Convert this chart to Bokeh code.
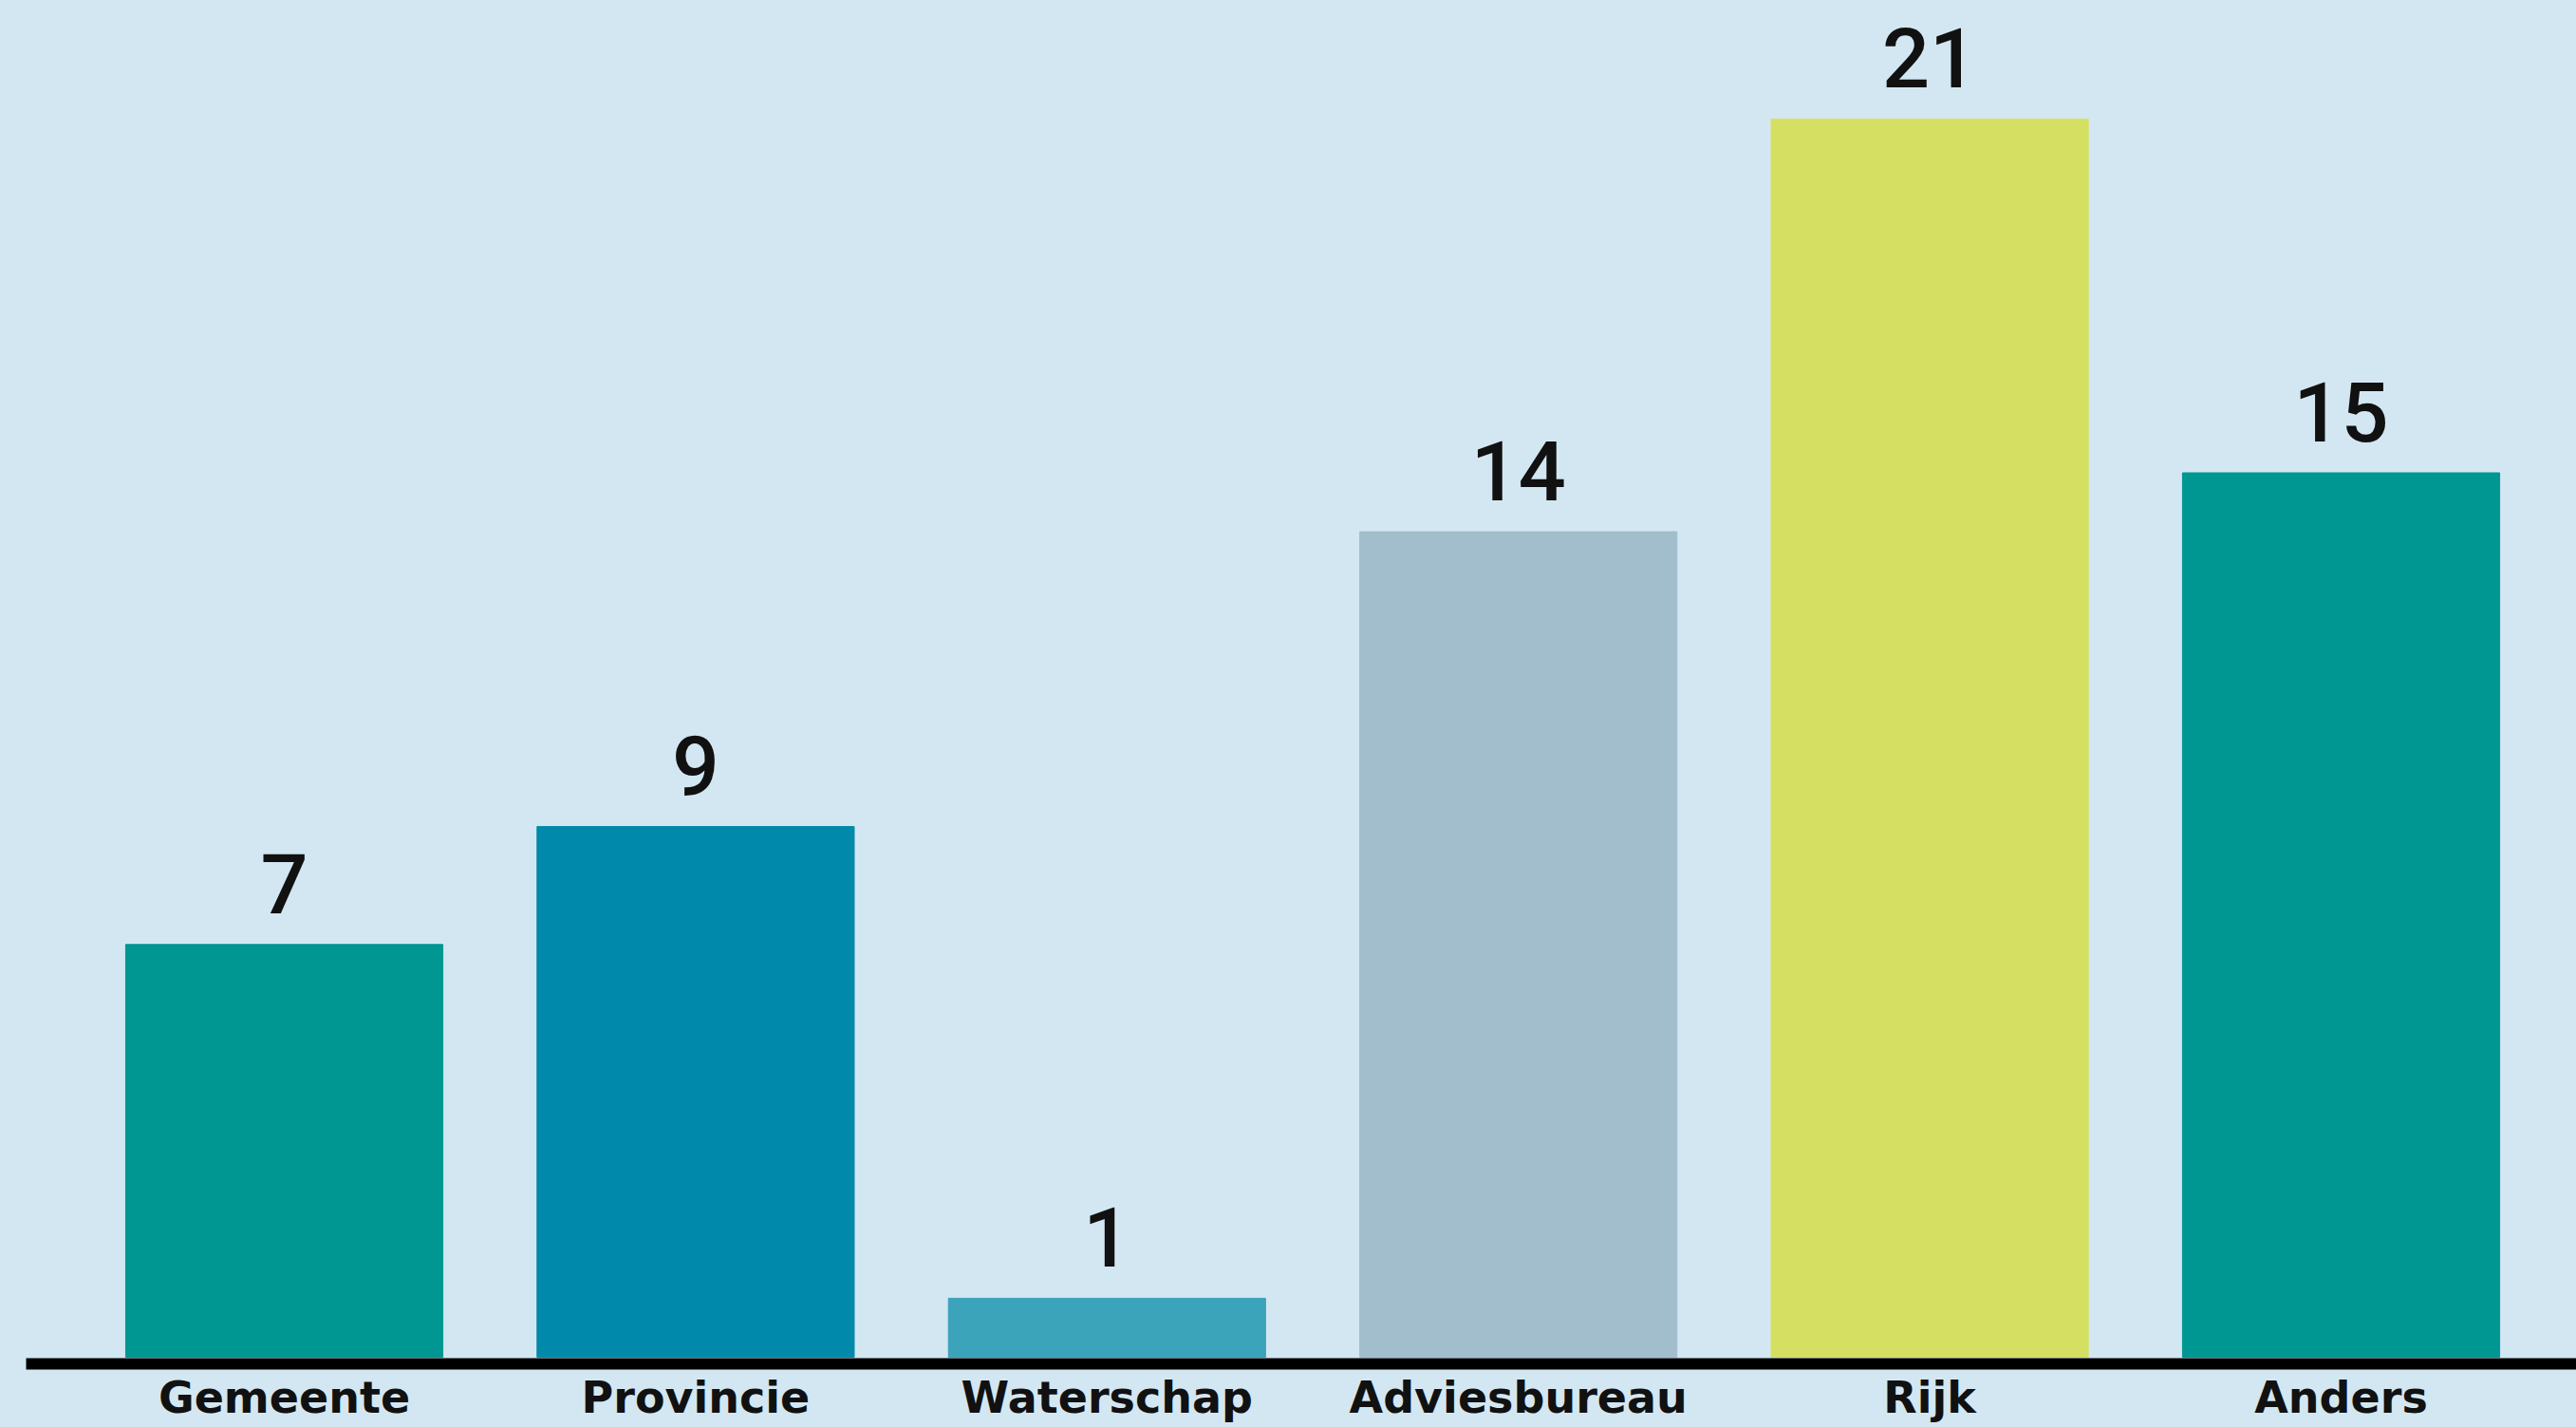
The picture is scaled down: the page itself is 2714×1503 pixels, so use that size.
from bokeh.plotting import figure
from bokeh.models import Range1d, FixedTicker, ColumnDataSource, LabelSet
from bokeh.core.properties import value
from bokeh.embed import file_html
from bokeh.resources import INLINE

categories = ["Gemeente", "Provincie", "Waterschap", "Adviesbureau", "Rijk", "Anders"]
counts = [7, 9, 1, 14, 21, 15]
colors = ["#009691", "#0089AB", "#3BA3BA", "#A2BECC", "#D5E062", "#009691"]

BG = "#D3E7F2"
idx = list(range(len(categories)))

src = ColumnDataSource(dict(x=idx, top=counts, color=colors,
                            label=[str(c) for c in counts]))

p = figure(frame_width=2687, frame_height=1436,
           x_range=Range1d(-0.6276, 5.5722), y_range=Range1d(-0.1127, 23.011),
           output_backend="svg", toolbar_location=None, y_axis_location=None,
           min_border_left=27, min_border_right=0, min_border_top=0,
           min_border_bottom=10)

try:
    from bokeh.models import GlobalInlineStyleSheet
    p.stylesheets = [GlobalInlineStyleSheet(css="html,body{margin:0;padding:0;overflow:hidden;background:%s;}" % BG)]
except Exception:
    pass

p.background_fill_color = BG
p.border_fill_color = BG
p.outline_line_color = None
p.xgrid.visible = False
p.ygrid.visible = False

p.vbar(x="x", top="top", width=0.771, bottom=0, color="color", source=src)

labels = LabelSet(x="x", y="top", text="label", source=src, text_align="center",
                  text_baseline="alphabetic", y_offset=33,
                  text_font=value("'Roboto Medium', Roboto, sans-serif"),
                  text_font_style=value("normal"),
                  text_font_size=value("88px"), text_color=value("#111111"))
p.add_layout(labels)

ax = p.xaxis[0]
ax.ticker = FixedTicker(ticks=idx)
ax.major_label_overrides = {i: c for i, c in zip(idx, categories)}
ax.axis_line_color = "#000000"
ax.axis_line_width = 12
ax.major_tick_line_color = None
ax.minor_tick_line_color = None
ax.major_tick_in = 0
ax.major_tick_out = 0
ax.minor_tick_in = 0
ax.minor_tick_out = 0
ax.major_label_standoff = 8
ax.major_label_text_font = "DejaVu Sans"
ax.major_label_text_font_style = "bold"
ax.major_label_text_font_size = "46px"
ax.major_label_text_color = "#111111"

open("out.html", "w").write(file_html(p, INLINE))
